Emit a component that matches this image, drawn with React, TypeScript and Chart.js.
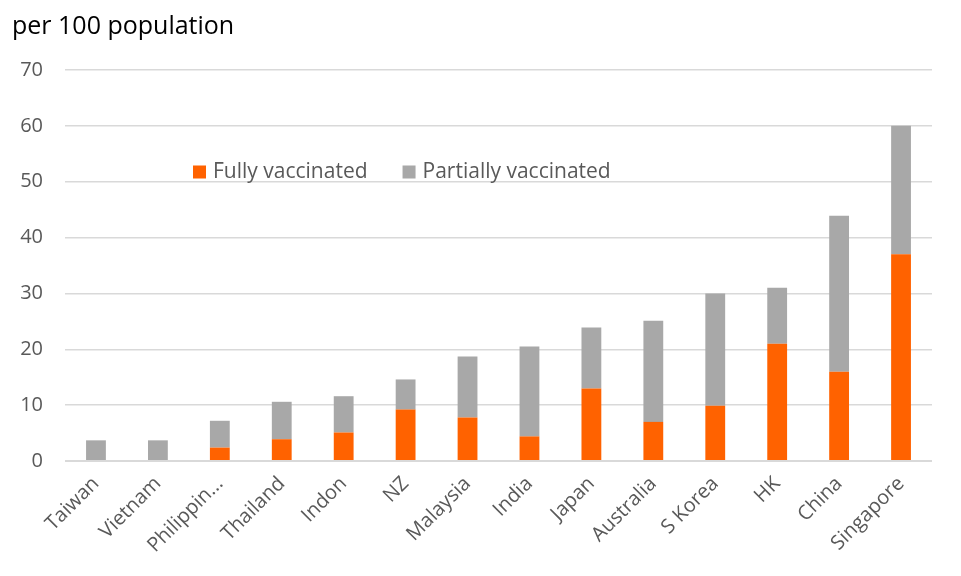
import React, { useEffect, useRef } from "react";
import { Chart, registerables } from "chart.js";

Chart.register(...registerables);

const categories = [
  "Taiwan", "Vietnam", "Philippin...", "Thailand", "Indon", "NZ", "Malaysia",
  "India", "Japan", "Australia", "S Korea", "HK", "China", "Singapore",
];
const fullyVaccinated = [0, 0, 2.4, 3.9, 5.1, 9.2, 7.8, 4.4, 13.0, 7.0, 9.9, 21.0, 16.0, 37.0];
const partiallyVaccinated = [3.7, 3.7, 4.8, 6.7, 6.5, 5.4, 10.9, 16.1, 10.9, 18.1, 20.1, 10.0, 27.9, 23.0];
const yTicks = [0, 10, 20, 30, 40, 50, 60, 70];

const FONT = "'Open Sans', 'Noto Sans', sans-serif";
const ORANGE = "#FF6200";
const GREY = "#A8A8A8";
const TEXT = "#595959";

const overlayPlugin = {
  id: "overlay",
  afterDraw(chart: any) {
    const ctx = chart.ctx;
    const area = chart.chartArea;
    ctx.save();
    // title
    ctx.fillStyle = "#000000";
    ctx.font = `25px ${FONT}`;
    ctx.textAlign = "left";
    ctx.textBaseline = "alphabetic";
    ctx.fillText("per 100 population", 12, 34);
    // legend
    ctx.font = `21px ${FONT}`;
    ctx.textBaseline = "middle";
    let x = area.left + 128;
    const y = area.top + 102;
    chart.data.datasets.forEach((ds: any) => {
      ctx.fillStyle = ds.backgroundColor;
      ctx.fillRect(x, y - 6.5, 13, 13);
      ctx.fillStyle = TEXT;
      ctx.fillText(ds.label, x + 20, y);
      const w = ctx.measureText(ds.label).width;
      x += 20 + w + 35;
    });
    ctx.restore();
  },
};

export default function App() {
  const ref = useRef<HTMLCanvasElement>(null);
  useEffect(() => {
    if (!ref.current) return;
    const chart = new Chart(ref.current, {
      type: "bar",
      data: {
        labels: categories,
        datasets: [
          {
            label: "Fully vaccinated",
            data: fullyVaccinated,
            backgroundColor: ORANGE,
            barPercentage: 0.32,
            categoryPercentage: 1,
          },
          {
            label: "Partially vaccinated",
            data: partiallyVaccinated,
            backgroundColor: GREY,
            barPercentage: 0.32,
            categoryPercentage: 1,
          },
        ],
      },
      options: {
        animation: false,
        responsive: false,
        maintainAspectRatio: false,
        layout: { padding: { top: 70, left: 0, right: 29, bottom: 0 } },
        plugins: {
          legend: { display: false },
          title: { display: false },
          tooltip: { enabled: false },
        },
        scales: {
          x: {
            stacked: true,
            grid: { display: false, drawTicks: false },
            border: { display: false },
            ticks: {
              autoSkip: false,
              maxRotation: 45,
              minRotation: 45,
              padding: 11,
              color: TEXT,
              font: { family: FONT, size: 20 },
            },
            afterFit(scale: any) {
              scale.height = 115;
            },
          },
          y: {
            stacked: true,
            min: 0,
            max: 70,
            afterBuildTicks(scale: any) {
              scale.ticks = yTicks.map((v) => ({ value: v }));
            },
            grid: {
              color: "#D9D9D9",
              lineWidth: (c: any) => (c.tick && c.tick.value === 0 ? 2 : 1.5),
              drawTicks: false,
            },
            border: { display: false },
            ticks: {
              padding: 22,
              color: TEXT,
              font: { family: FONT, size: 20 },
            },
            afterFit(scale: any) {
              scale.width = 65;
            },
          },
        },
      },
      plugins: [overlayPlugin],
    });
    return () => chart.destroy();
  }, []);
  return (
    <div style={{ position: "fixed", left: 0, top: 0, width: 961, height: 576, background: "#fff" }}>
      <canvas ref={ref} width={961} height={576} style={{ width: 961, height: 576 }} />
    </div>
  );
}
